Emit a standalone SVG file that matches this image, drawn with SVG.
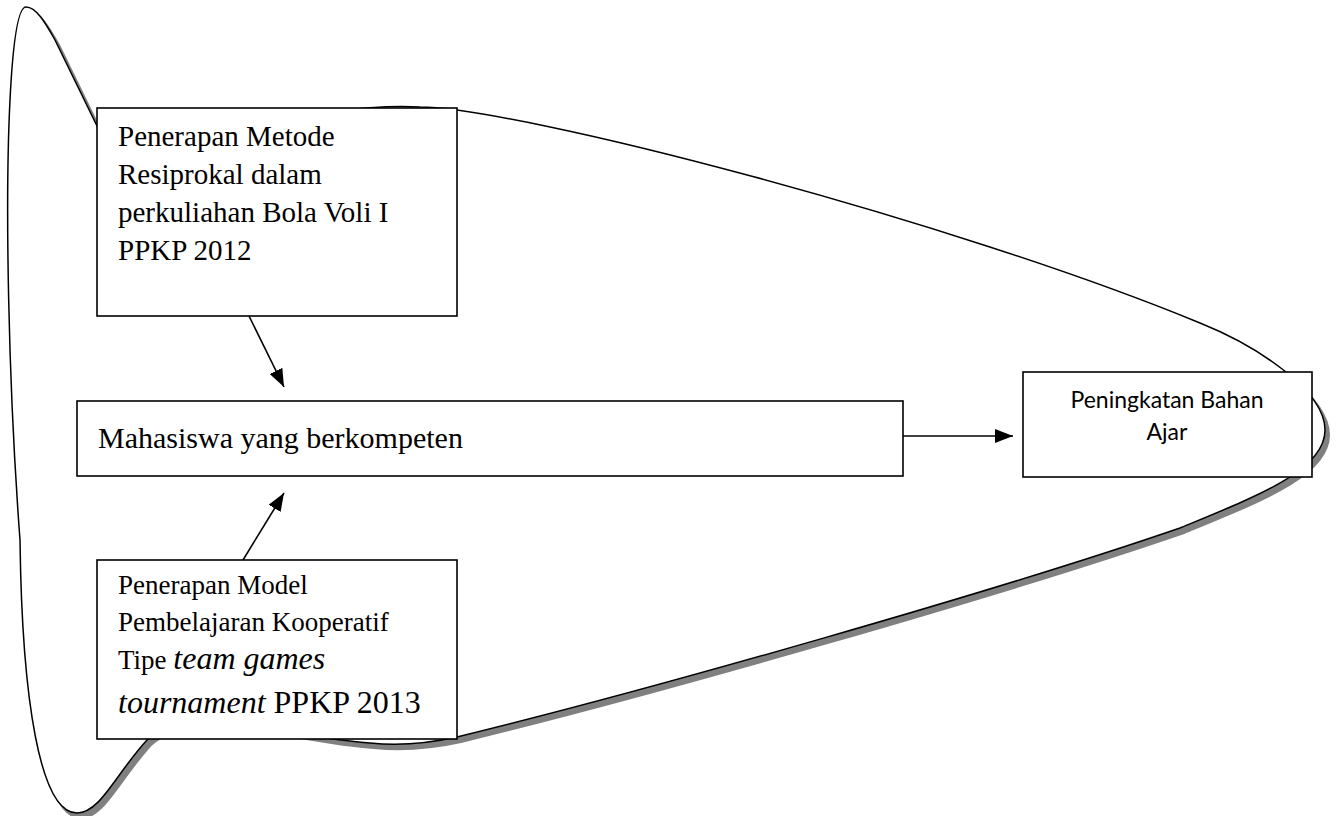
<svg xmlns="http://www.w3.org/2000/svg" width="1339" height="816" viewBox="0 0 1339 816">
<style>
.box{fill:#fff;stroke:#000;stroke-width:1.6}
.serif{font-family:"Liberation Serif","Times New Roman",serif;fill:#000}
.sans{font-family:Lato,"Noto Sans",sans-serif;fill:#000}
.conn{stroke:#000;stroke-width:1.6;fill:none}
</style>
<defs>
<marker id="ah" markerWidth="18" markerHeight="14" refX="18" refY="7" orient="auto" markerUnits="userSpaceOnUse">
<path d="M0,0 L18,7 L0,14 Z" fill="#000"/>
</marker>
<path id="blob" d="M26,7 C36,7 45,22 55,40 L97,126 C117,167 300,100 420,107 C520,108 950,220 1200,323 C1255,345 1325,390 1325,430 C1325,470 1260,495 1180,528 C1000,590 650,690 457,737 C430,743 400,746 370,743 C290,738 190,700 147,740 C115,775 100,813 77,813 C40,813 22,700 20,540 C8,380 5,200 10,100 C13,40 18,7 26,7 Z"/>
</defs>
<g id="outline">
<use href="#blob" transform="translate(4,5)" fill="#808080" stroke="#808080" stroke-width="2"/>
<use href="#blob" fill="#fff" stroke="#000" stroke-width="1.5"/>
</g>
<g id="connectors">
<line class="conn" x1="249" y1="316" x2="284" y2="387" marker-end="url(#ah)"/>
<line class="conn" x1="243" y1="560" x2="284" y2="493" marker-end="url(#ah)"/>
<line class="conn" x1="901" y1="436" x2="1013" y2="436" marker-end="url(#ah)"/>
</g>
<g id="node-metode">
<rect class="box" x="97" y="108" width="360" height="208"/>
<text class="serif" font-size="29"><tspan x="118" y="146">Penerapan Metode</tspan><tspan x="118" y="184">Resiprokal dalam</tspan><tspan x="118" y="222">perkuliahan Bola Voli I</tspan><tspan x="118" y="260">PPKP 2012</tspan></text>
</g>
<g id="node-mahasiswa">
<rect class="box" x="77" y="401" width="826" height="75"/>
<text class="serif" font-size="30" x="98" y="448">Mahasiswa yang berkompeten</text>
</g>
<g id="node-peningkatan">
<rect class="box" x="1023" y="372" width="289" height="105"/>
<text class="sans" font-size="23" text-anchor="middle"><tspan x="1167" y="408">Peningkatan Bahan</tspan><tspan x="1167" y="440">Ajar</tspan></text>
</g>
<g id="node-model">
<rect class="box" x="97" y="560" width="360" height="179"/>
<text class="serif" font-size="27"><tspan x="118" y="594">Penerapan Model</tspan><tspan x="118" y="631">Pembelajaran Kooperatif</tspan><tspan x="118" y="669">Tipe <tspan font-style="italic" font-size="32">team games</tspan></tspan><tspan x="118" y="713" font-size="32"><tspan font-style="italic">tournament</tspan> PPKP 2013</tspan></text>
</g>
</svg>
